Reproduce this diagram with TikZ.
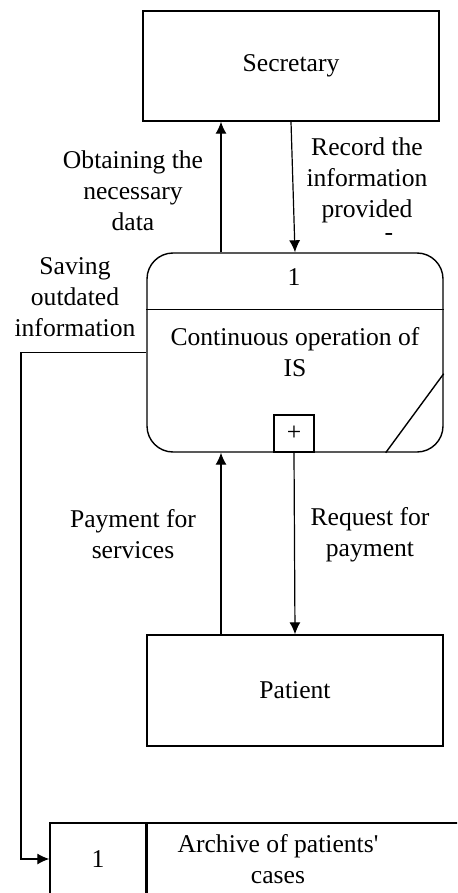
\documentclass[tikz,border=0pt]{standalone}
\usepackage{fontspec}
\setmainfont{Liberation Serif}
\usetikzlibrary{positioning, shapes.geometric, arrows.meta, calc}

\begin{document}
\begin{tikzpicture}[x=0.5pt, y=-0.5pt,
  box/.style={rectangle, draw, line width=0.7pt, minimum width=148pt, minimum height=55pt, inner sep=0pt},
  proc/.style={box, rounded corners=13pt, minimum height=99.5pt},
  cell/.style={rectangle, draw, line width=0.7pt, minimum height=36pt, inner sep=0pt},
  lbl/.style={align=center, inner sep=0pt},
  flow/.style={->, line width=0.6pt},
  >={Latex[length=6pt, width=5.5pt]},
  font=\fontsize{12.8}{15.5}\selectfont]
  \useasboundingbox (0,0) rectangle (457,893);
  \clip (0,0) rectangle (457,893);

  \draw (291,66)    node[box](sec) {Secretary};
  \draw (295,352.5) node[proc](isop) {};
  \draw (294,433.5) node[box, minimum width=20pt, minimum height=18.5pt](plus) {+};
  \draw (295,690.5) node[box, minimum height=55.5pt](pat) {Patient};
  \draw (98,859)    node[cell, minimum width=48pt](arno) {1};
  \draw (arno.east) node[cell, anchor=west, minimum width=207pt](arch) {};

  % inside the process
  \draw (294,277) node(isnum) {1};
  \draw (isop.center) node[lbl](istitle) {Continuous operation of\\IS};
  \draw[line width=0.7pt] ($(isop.north west)+(0,57)$) -- ($(isop.north east)+(0,57)$);
  \draw[line width=0.7pt] ($(isop.south east)+(-58,0)$) -- ($(isop.south east)+(0,-79)$);

  % flow labels
  \draw (133,191) node[lbl](obt) {Obtaining the\\necessary\\data};
  \draw (367,180) node[lbl](rec) {Record the\\information\\provided};
  \draw (389,237) node(dash) {-};
  \draw (75,297)  node[lbl](sav) {Saving\\outdated\\information};
  \draw (133,534) node[lbl](pay) {Payment for\\services};
  \draw (370,535) node[lbl](req) {Request for\\payment};
  \draw (278,859) node[lbl](archtxt) {Archive of patients\textquotesingle\\cases};

  \coordinate (upx) at (221,0);
  \coordinate (bend) at (21,600);

  \draw[flow] (isop.north -| upx) -- (sec.south -| upx);
  \draw[flow] (sec.south) -- (isop.north);
  \draw[flow] (pat.north -| upx) -- (isop.south -| upx);
  \draw[flow] (plus.south) -- (pat.north);
  \draw[flow] (isop.west) -| (bend) |- (arno.west);
\end{tikzpicture}
\end{document}
